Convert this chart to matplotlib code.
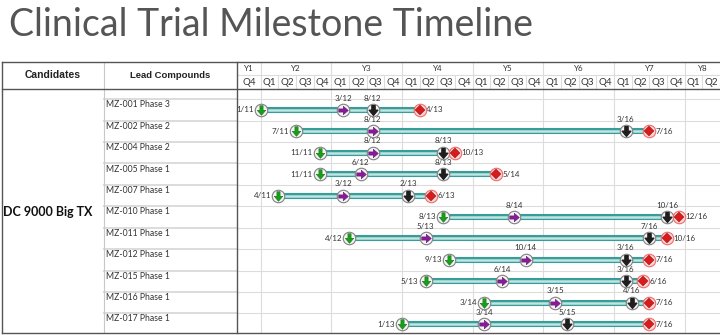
import matplotlib
matplotlib.use('Agg')
import matplotlib.pyplot as plt
from matplotlib.path import Path

# rows (top to bottom)
compounds = ['MZ-001 Phase 3', 'MZ-002 Phase 2', 'MZ-004 Phase 2', 'MZ-005 Phase 1',
             'MZ-007 Phase 1', 'MZ-010 Phase 1', 'MZ-011 Phase 1', 'MZ-012 Phase 1',
             'MZ-015 Phase 1', 'MZ-016 Phase 1', 'MZ-017 Phase 1']
start_dates = ['1/11', '7/11', '11/11', '11/11', '4/11', '8/13', '4/12', '9/13', '5/13', '3/14', '1/13']
mid_dates = ['3/12', '8/12', '8/12', '6/12', '3/12', '8/14', '5/13', '10/14', '6/14', '3/15', '3/14']
black_dates = ['8/12', '3/16', '8/13', '8/13', '2/13', '10/16', '7/16', '3/16', '3/16', '4/16', '5/15']
end_dates = ['4/13', '7/16', '10/13', '5/14', '6/13', '12/16', '10/16', '7/16', '6/16', '7/16', '7/16']

candidate = 'DC 9000 Big TX'
years = [2010, 2011, 2012, 2013, 2014, 2015, 2016, 2017]
year_labels = ['Y1', 'Y2', 'Y3', 'Y4', 'Y5', 'Y6', 'Y7', 'Y8']


def to_x(d):
    m, y = d.split('/')
    return 2000 + int(y) + (int(m) - 1) / 12


X0, X1 = 2010.665, 2017.5
W, H = 720, 335
FONT = 'Lato'
GRID = '#dcdcdc'
BORDER = '#555555'

fig = plt.figure(figsize=(7.2, 3.35), dpi=100)
fig.patch.set_facecolor('white')


def box(l, t, r, b):
    return [l / W, (H - b) / H, (r - l) / W, (b - t) / H]


ax = fig.add_axes(box(237, 89, 720, 333))
axh = fig.add_axes(box(237, 62, 720, 89), sharex=ax)
axl = fig.add_axes(box(2, 89, 237, 333), sharey=ax)
axhl = fig.add_axes(box(2, 62, 237, 89))

n = len(compounds)
ax.set_xlim(X0, X1)
ax.set_ylim(n - 0.58, -0.98)
for a in (ax, axh, axl, axhl):
    a.set_xticks([])
    a.set_yticks([])
    for s in a.spines.values():
        s.set_visible(False)

# grid in timeline
for y in years[1:]:
    ax.axvline(y, color=GRID, lw=0.8, zorder=0)
for i in range(n):
    ax.axhline(i - 0.5, color=GRID, lw=0.8, zorder=0)
    axl.plot([0.435, 1], [i - 0.5, i - 0.5], color=GRID, lw=1.4, zorder=0)

# bars and milestones
down = Path([(-0.3, 0.9), (0.3, 0.9), (0.3, 0.05), (0.8, 0.05), (0, -0.9),
             (-0.8, 0.05), (-0.3, 0.05), (-0.3, 0.9)], closed=True)
right = Path([(-0.9, 0.3), (-0.9, -0.3), (-0.05, -0.3), (-0.05, -0.8), (0.9, 0),
              (-0.05, 0.8), (-0.05, 0.3), (-0.9, 0.3)], closed=True)

for i in range(n):
    xs, xm, xb, xe = (to_x(start_dates[i]), to_x(mid_dates[i]),
                      to_x(black_dates[i]), to_x(end_dates[i]))
    ax.plot([xs, xe], [i, i], color='#3a9c98', lw=4.4, solid_capstyle='butt', zorder=2)
    ax.plot([xs, xe], [i, i], color='#bfe6e2', lw=1.8, solid_capstyle='butt', zorder=3)
    for x in (xs, xm, xb):
        ax.plot(x, i, 'o', ms=9, mfc='#f4f4f4', mec='#808080', mew=0.8, zorder=4)
    ax.plot(xe, i, 'o', ms=9, mfc='#fcd6d6', mec='#f06b6b', mew=0.8, zorder=4)
    ax.plot(xs, i, marker=down, ms=7, color='#17a017', mec='#0d5c0d', mew=0.3, zorder=5)
    ax.plot(xm, i, marker=right, ms=7, color='#8a1a9b', mec='#4d0d57', mew=0.3, zorder=5)
    ax.plot(xb, i, marker=down, ms=7, color='#1e1e1e', zorder=5)
    ax.plot(xe, i, marker='D', ms=5, color='#d61c1c', mec='#8f0c0c', mew=0.3, zorder=5)
    tk = dict(fontsize=5.8, color='#333333', family=FONT, textcoords='offset points', va='center')
    ax.annotate(start_dates[i], (xs, i), xytext=(-5, 0), ha='right', **tk)
    ax.annotate(mid_dates[i], (xm, i), xytext=(0, 8.5), ha='center', **tk)
    ax.annotate(black_dates[i], (xb, i), xytext=(0, 8.5), ha='center', **tk)
    ax.annotate(end_dates[i], (xe, i), xytext=(4.5, 0), ha='left', **tk)

# header: years and quarters
axh.set_ylim(1, 0)
axh.axhline(0.48, color=GRID, lw=0.8)
q_edges = [X0] + [y + q * 0.25 for y in years[1:] for q in range(4)]
q_edges = [q for q in q_edges if q <= X1]
q_names = ['Q4'] + ['Q%d' % (q + 1) for y in years[1:] for q in range(4)]
for k in range(len(q_edges) - 1):
    a, b = q_edges[k], q_edges[k + 1]
    axh.text((a + b) / 2, 0.76, q_names[k], ha='center', va='center',
             fontsize=7, color='#333333', family=FONT)
    if k > 0:
        axh.plot([a, a], [0.48, 1], color=GRID, lw=0.8)
for k, y in enumerate(years):
    a, b = max(y, X0), min(y + 1, X1)
    axh.text((a + b) / 2, 0.24, year_labels[k], ha='center', va='center',
             fontsize=5.8, color='#333333', family=FONT)
    if k > 0:
        axh.plot([y, y], [0, 0.48], color=GRID, lw=0.8)

# left columns
axl.set_xlim(0, 1)
for i, name in enumerate(compounds):
    axl.text(0.443, i - 0.24, name, ha='left', va='center', fontsize=6.2,
             color='#333333', family=FONT)
axl.text(0.005, 4.75, candidate, ha='left', va='center', fontsize=9,
         fontweight='bold', color='#111111', family=FONT)
axl.axvline(0.434, color='#c8c8c8', lw=0.8)

axhl.set_xlim(0, 1)
axhl.set_ylim(1, 0)
axhl.text(0.217, 0.5, 'Candidates', ha='center', va='center', fontsize=7.5,
          fontweight='bold', family='Liberation Sans', color='#222222')
axhl.text(0.715, 0.5, 'Lead Compounds', ha='center', va='center', fontsize=6.8,
          fontweight='bold', family='Liberation Sans', color='#222222')
axhl.axvline(0.434, color='#c8c8c8', lw=0.8)

# table borders
for x in (2, 237):
    fig.add_artist(plt.Line2D([x / W] * 2, [(H - 62) / H, (H - 333) / H],
                              color=BORDER, lw=1.0))
for yb in (62, 89, 333):
    fig.add_artist(plt.Line2D([2 / W, 719.5 / W], [(H - yb) / H] * 2,
                              color=BORDER, lw=1.0))

fig.text(9 / W, 1 - 25 / H, 'Clinical Trial Milestone Timeline', fontsize=27,
         color='#555555', family=FONT, va='center', ha='left')

fig.savefig('out.png', dpi=100, facecolor='white')
